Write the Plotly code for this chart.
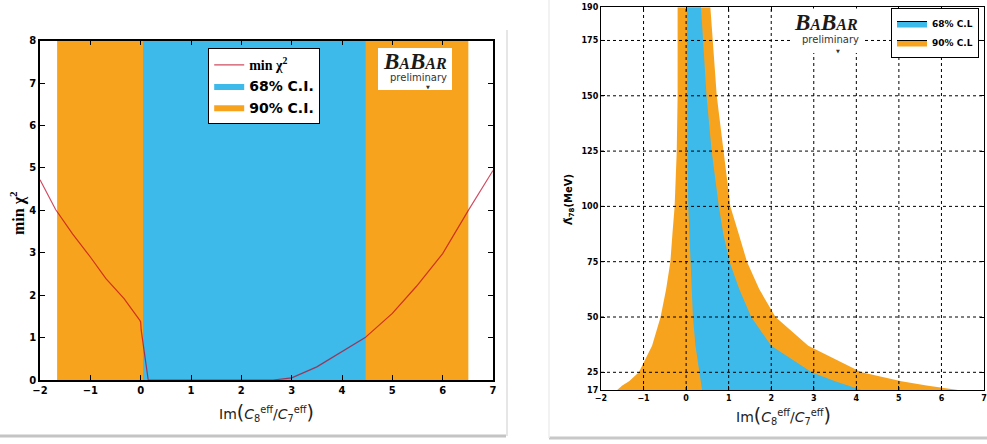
import plotly.graph_objects as go

W, H = 987, 444

# ---------------- data: left panel ----------------
chi_x = [-2.0, -1.69, -1.35, -1.0, -0.69, -0.33, -0.02, 0.0, 0.01, 0.15,
         2.63, 3.0, 3.5, 4.0, 4.46, 5.0, 5.48, 6.0, 6.51, 7.0]
chi_y = [4.72, 4.02, 3.44, 2.9, 2.39, 1.92, 1.41, 1.37, 1.18, 0.0,
         0.0, 0.05, 0.31, 0.67, 1.0, 1.57, 2.21, 2.98, 4.0, 4.94]
ci68_bounds = [0.05, 4.47]
ci90_bounds = [-1.66, 6.51]
left_xticks = [-2, -1, 0, 1, 2, 3, 4, 5, 6, 7]
left_xticktext = ["\u22122", "\u22121", "0", "1", "2", "3", "4", "5", "6", "7"]
left_yticks = [0, 1, 2, 3, 4, 5, 6, 7, 8]
left_yrange = [0, 8]

# ---------------- data: right panel ----------------
lam = [17, 19, 21, 25, 37, 50, 62.5, 75, 88, 100, 125, 150, 175, 190]
lo90 = [-1.62, -1.5, -1.34, -1.11, -0.8, -0.6, -0.47, -0.37, -0.32, -0.27, -0.22, -0.2, -0.2, -0.2]
lo68 = [0.375, 0.36, 0.34, 0.3, 0.22, 0.16, 0.13, 0.1, 0.07, 0.05, 0.03, 0.03, 0.03, 0.02]
hi68 = [4.12, 3.8, 3.5, 2.95, 2.0, 1.53, 1.25, 1.02, 0.87, 0.77, 0.6, 0.48, 0.4, 0.35]
hi90 = [6.39, 5.65, 5.06, 4.12, 2.87, 2.1, 1.72, 1.43, 1.23, 1.04, 0.88, 0.72, 0.62, 0.57]
right_xticks = [-2, -1, 0, 1, 2, 3, 4, 5, 6, 7]
right_yticks = [17, 25, 50, 75, 100, 125, 150, 175, 190]
right_yrange = [17, 190]
grid_x = [-1, 0, 1, 2, 3, 4, 5, 6]
grid_y = [25, 50, 75, 100, 125, 150, 175]

BLUE = "#3db9ea"
ORANGE = "#f8a31e"
LINE = "rgba(190,0,30,0.7)"


def px(x):
    return x / W


def py(y):
    return 1 - y / H


fig = go.Figure()

# ---- left panel bands ----
fig.add_trace(go.Scatter(
    x=[ci90_bounds[0], ci90_bounds[0], ci90_bounds[1], ci90_bounds[1]],
    y=[left_yrange[0], left_yrange[1], left_yrange[1], left_yrange[0]],
    fill="toself", fillcolor=ORANGE, line=dict(width=0), mode="lines",
    name="90% C.I.", legend="legend", legendrank=3, hoverinfo="skip",
    xaxis="x", yaxis="y"))
fig.add_trace(go.Scatter(
    x=[ci68_bounds[0], ci68_bounds[0], ci68_bounds[1], ci68_bounds[1]],
    y=[left_yrange[0], left_yrange[1], left_yrange[1], left_yrange[0]],
    fill="toself", fillcolor=BLUE, line=dict(width=0), mode="lines",
    name="68% C.I.", legend="legend", legendrank=2, hoverinfo="skip",
    xaxis="x", yaxis="y"))
fig.add_trace(go.Scatter(
    x=chi_x, y=chi_y, mode="lines", line=dict(color=LINE, width=1.2),
    name="<span style='font-family:Liberation Serif'>min \u03c7<sup>2</sup></span>",
    legend="legend", legendrank=1, xaxis="x", yaxis="y"))

# ---- right panel bands ----
fig.add_trace(go.Scatter(
    x=lo90 + hi90[::-1], y=lam + lam[::-1], fill="toself", fillcolor=ORANGE,
    line=dict(width=0), mode="lines", showlegend=False, hoverinfo="skip",
    xaxis="x2", yaxis="y2"))
fig.add_trace(go.Scatter(
    x=lo68 + hi68[::-1], y=lam + lam[::-1], fill="toself", fillcolor=BLUE,
    line=dict(width=0), mode="lines", showlegend=False, hoverinfo="skip",
    xaxis="x2", yaxis="y2"))

# grid drawn above the bands
gx, gy = [], []
for g in grid_x:
    gx += [g, g, None]
    gy += [right_yrange[0], right_yrange[1], None]
for g in grid_y:
    gx += [right_xticks[0], right_xticks[-1], None]
    gy += [g, g, None]
fig.add_trace(go.Scatter(
    x=gx, y=gy, mode="lines", line=dict(color="black", width=1, dash="dot"),
    showlegend=False, hoverinfo="skip", xaxis="x2", yaxis="y2"))

# legend-only entries for right panel (patches with dark edge)
fig.add_trace(go.Scatter(
    x=[None], y=[None], fill="toself", fillcolor=BLUE, mode="lines",
    line=dict(color="black", width=1), name="68% C.L", legend="legend2",
    xaxis="x2", yaxis="y2"))
fig.add_trace(go.Scatter(
    x=[None], y=[None], fill="toself", fillcolor=ORANGE, mode="lines",
    line=dict(color="black", width=1), name="90% C.L", legend="legend2",
    xaxis="x2", yaxis="y2"))

tickfont_l = dict(family="DejaVu Sans", size=10, color="black", weight="bold")
tickfont_r = dict(family="DejaVu Sans", size=8, color="black", weight="bold")

axis_common = dict(showgrid=False, zeroline=False, showline=True, linecolor="black",
                   mirror="ticks", ticks="inside", tickcolor="black", automargin=False)

fig.update_layout(
    width=W, height=H, margin=dict(l=0, r=0, t=0, b=0, pad=0, autoexpand=False),
    paper_bgcolor="white", plot_bgcolor="white",
    xaxis=dict(domain=[px(40), px(493)], range=[-2, 7], anchor="y",
               tickvals=left_xticks, ticktext=left_xticktext, ticklen=5,
               linewidth=1.5, tickfont=tickfont_l, **axis_common),
    yaxis=dict(domain=[py(380), py(40.7)], range=left_yrange, anchor="x",
               tickvals=left_yticks, ticklen=5, linewidth=1.5,
               tickfont=tickfont_l, **axis_common),
    xaxis2=dict(domain=[px(601), px(984)], range=[-2, 7], anchor="y2",
                tickvals=right_xticks, ticktext=left_xticktext, ticklen=4,
                linewidth=1.3, tickfont=tickfont_r, **axis_common),
    yaxis2=dict(domain=[py(390), py(7.3)], range=right_yrange, anchor="x2",
                tickvals=right_yticks, ticklen=4, linewidth=1.3,
                tickfont=tickfont_r, **axis_common),
    legend=dict(x=px(208), y=py(48), xanchor="left", yanchor="top",
                bgcolor="white", bordercolor="black", borderwidth=1.2,
                font=dict(family="DejaVu Sans", size=14, color="black", weight="bold"),
                itemwidth=30, tracegroupgap=0),
    legend2=dict(x=px(979), y=py(8), xanchor="right", yanchor="top",
                 bgcolor="white", bordercolor="black", borderwidth=1,
                 font=dict(family="DejaVu Sans", size=9, color="black", weight="bold"),
                 itemwidth=30),
    showlegend=True,
)

shapes = [
    # left BaBar box
    dict(type="rect", xref="paper", yref="paper", x0=px(378), x1=px(452),
         y0=py(90), y1=py(48), fillcolor="white", line=dict(width=0), layer="above"),
    # right BaBar white patch
    dict(type="rect", xref="paper", yref="paper", x0=px(791), x1=px(863),
         y0=py(53), y1=py(8.5), fillcolor="white", line=dict(width=0), layer="above"),
    # card shadows
    dict(type="line", xref="paper", yref="paper", x0=0, x1=px(506), y0=py(436), y1=py(436),
         line=dict(color="#c4c4c4", width=3), layer="below"),
    dict(type="line", xref="paper", yref="paper", x0=px(507), x1=px(507), y0=py(436), y1=py(30),
         line=dict(color="#e6e6e6", width=2), layer="below"),
    dict(type="line", xref="paper", yref="paper", x0=px(549), x1=1, y0=py(438), y1=py(438),
         line=dict(color="#c8c8c8", width=3), layer="below"),
    dict(type="line", xref="paper", yref="paper", x0=px(549), x1=px(549), y0=py(438), y1=1,
         line=dict(color="#eeeeee", width=1.5), layer="below"),
]
fig.update_layout(shapes=shapes)

babar = ("<i>B<span style='font-size:16px'>A</span>B"
         "<span style='font-size:16px'>AR</span></i>")
serif = "Liberation Serif"
ann = []


def note(x, y, text, font, angle=0):
    ann.append(dict(xref="paper", yref="paper", x=px(x), y=py(y), text=text,
                    xanchor="center", yanchor="middle", showarrow=False,
                    textangle=angle, font=font))


# left logo
note(415, 61, babar, dict(family=serif, size=23, color="#1a1a1a", weight="bold"))
note(418, 77, "preliminary", dict(family="DejaVu Sans", size=10, color="#333"))
note(428, 87, "\u25bc", dict(family="DejaVu Sans", size=5, color="#333"))
# right logo
note(826, 22, babar, dict(family=serif, size=23, color="#1a1a1a", weight="bold"))
note(830, 40, "preliminary", dict(family="DejaVu Sans", size=10, color="#333"))
note(838, 51, "\u25bc", dict(family="DejaVu Sans", size=5, color="#333"))
# axis titles
xtitle = ("Im<span style='font-size:19px'>(</span><i>C</i><sub>8</sub><sup>eff</sup>"
          "/<i>C</i><sub>7</sub><sup>eff</sup>"
          "<span style='font-size:19px'>)</span>")
note(266, 412, xtitle, dict(family="DejaVu Sans", size=14, color="#222"))
note(783, 415, xtitle, dict(family="DejaVu Sans", size=14, color="#222"))
note(17, 213, "min \u03c7<sup>2</sup>", dict(family=serif, size=16, color="black", weight="bold"), -90)
note(569, 200, "\u039b\u0303<sub>78</sub>(MeV)",
     dict(family="DejaVu Sans", size=10, color="black", weight="bold"), -90)
fig.update_layout(annotations=ann)

fig.write_html("out.html", post_script="document.body.style.margin='0';",
               config={"displayModeBar": False})
